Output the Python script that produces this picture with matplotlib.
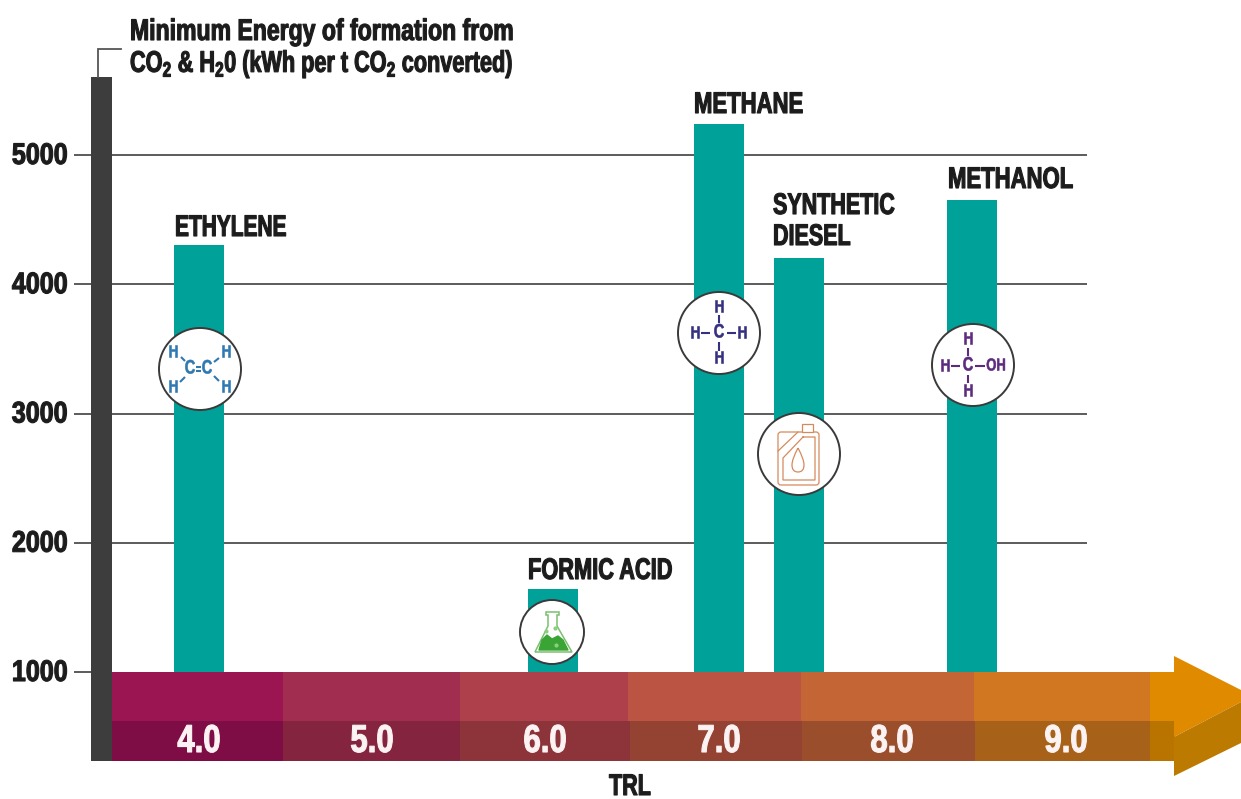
import matplotlib
matplotlib.use('Agg')
import matplotlib.pyplot as plt
from matplotlib.patches import Circle, Polygon, Rectangle, FancyBboxPatch, PathPatch
from matplotlib.patheffects import AbstractPathEffect
from matplotlib.path import Path
from matplotlib.transforms import Affine2D

plt.rcParams['font.family'] = ['Liberation Sans', 'DejaVu Sans']
plt.rcParams['font.weight'] = 'bold'
plt.rcParams['mathtext.fontset'] = 'custom'
plt.rcParams['mathtext.rm'] = 'Liberation Sans:bold'
plt.rcParams['mathtext.default'] = 'rm'

# data
products = ['ETHYLENE', 'FORMIC ACID', 'METHANE', 'SYNTHETIC\nDIESEL', 'METHANOL']
product_trl = [4.0, 6.04, 7.0, 7.46, 8.46]
product_energy = [4300, 1640, 5240, 4200, 4650]
y_ticks = [1000, 2000, 3000, 4000, 5000]
grid_values = [2000, 3000, 4000, 5000]
trl_levels = [4.0, 5.0, 6.0, 7.0, 8.0, 9.0]

DARK = '#3d3d3d'
TEAL = '#00a198'
TEXT = '#1c1c1c'


# no condensed font here, so squeeze the text sideways when it is drawn
class Squeeze(AbstractPathEffect):
    def __init__(self, x0, sx, dy=0, bold=0.8):
        self.x0, self.sx, self.dy, self.bold = x0, sx, dy, bold

    def draw_path(self, renderer, gc, tpath, affine, rgbFace=None):
        t = affine + Affine2D().translate(-self.x0, 0).scale(self.sx, 1).translate(self.x0, self.dy)
        gc0 = renderer.new_gc()
        gc0.copy_properties(gc)
        gc0.set_linewidth(self.bold)
        gc0.set_foreground(rgbFace)
        renderer.draw_path(gc0, tpath, t, rgbFace)
        gc0.restore()


fig = plt.figure(figsize=(12.41, 7.99), dpi=100)
ax = fig.add_axes([112 / 1241, 0, 1 - 112 / 1241, 1])


# pixel -> data helpers, 173.4 px per TRL and 129.25 px per 1000
def px_x(px):
    return 4 + (px - 199) / 173.4


def px_y(py):
    return 1000 + (672 - py) * 1000 / 129.25


ax.set_xlim(px_x(112), px_x(1241))
ax.set_ylim(px_y(799), px_y(0))
for s in ax.spines.values():
    s.set_visible(False)
ax.patch.set_alpha(0)

ax.hlines(grid_values, px_x(112), px_x(1087), color='#404040', lw=1.2, zorder=1)
ax.bar(product_trl, [v - 1000 for v in product_energy], bottom=1000,
       width=50 / 173.4, color=TEAL, zorder=2)

ax.set_xticks([])
ax.set_yticks(y_ticks)
ax.set_yticklabels([str(v) for v in y_ticks], fontsize=21.5, color=TEXT)
ax.tick_params(axis='y', length=27.4, width=1.2, color='#404040', pad=4.3)
for lab in ax.get_yticklabels():
    lab.set_path_effects([Squeeze(66.5, 0.84, dy=2)])

# overlay in pixel coordinates for axis bar, arrow and icons
ov = fig.add_axes([0, 0, 1, 1], zorder=5)
ov.set_xlim(0, 1241)
ov.set_ylim(799, 0)
ov.axis('off')


def label(x, y, s, sx, size=21.5, col=TEXT, ha='left', zorder=6, bold=0.8):
    ov.text(x, y, s, fontsize=size, color=col, ha=ha, va='center', zorder=zorder,
            path_effects=[Squeeze(x, sx, bold=bold)])


ov.add_patch(Rectangle((91, 77), 21, 684, color=DARK, lw=0))
ov.plot([98, 98, 121], [77, 49, 49], color='#555555', lw=1.3, solid_joinstyle='miter')
label(130, 32, 'Minimum Energy of formation from', 0.771)
label(130, 64, r'CO$_2$ & H$_2$0 (kWh per t CO$_2$ converted)', 0.725)

# product labels
name_px = [175, 528, 694, 773, 948]
name_py = [228, 571, 105, 221, 180]
name_sx = [0.70, 0.73, 0.74, 0.72, 0.74]
for name, lx, ly, sx in zip(products, name_px, name_py, name_sx):
    if '\n' in name:
        first, second = name.split('\n')
        label(lx, ly - 15, first, sx)
        label(lx, ly + 16, second, sx)
    else:
        label(lx, ly, name, sx)

# arrow bands
top_edges = [112, 283, 460, 628, 801, 974, 1150]
bot_edges = [112, 283, 460, 630, 802, 975, 1150]
top_cols = ['#9b1552', '#a12e50', '#ae404b', '#bb5443', '#c46536', '#d17621']
bot_cols = ['#7e0d46', '#84243f', '#8d343b', '#944232', '#9a4e2c', '#a86118']
for i in range(6):
    ov.add_patch(Rectangle((top_edges[i], 672), top_edges[i + 1] - top_edges[i], 49,
                           color=top_cols[i], lw=0))
    ov.add_patch(Rectangle((bot_edges[i], 721), bot_edges[i + 1] - bot_edges[i], 40,
                           color=bot_cols[i], lw=0))
ov.add_patch(Rectangle((1150, 672), 25, 49, color='#e08a00', lw=0))
ov.add_patch(Rectangle((1150, 721), 25, 40, color='#b97400', lw=0))
ov.add_patch(Polygon([(1174, 656), (1241, 690), (1241, 702), (1174, 737)], color='#e08a00', lw=0))
ov.add_patch(Polygon([(1174, 737), (1241, 702), (1241, 743), (1174, 776)], color='#bd7a00', lw=0))

for trl, px in zip(trl_levels, [199, 372, 545, 719, 892, 1066]):
    label(px, 742, f'{trl:.1f}', 0.8, size=28, col='#fbf3f3', ha='center')
label(630, 787, 'TRL', 0.72, ha='center')


def badge(cx, cy, r=41):
    ov.add_patch(Circle((cx, cy), r, fc='white', ec='#3a3a3a', lw=1.4, zorder=3))


def atom(x, y, s, col, size=12.5, sx=0.75):
    label(x, y, s, sx, size=size, col=col, ha='center', zorder=5, bold=0.4)


def bond(x0, y0, x1, y1, col):
    ov.plot([x0, x1], [y0, y1], color=col, lw=1.5, zorder=4, solid_capstyle='butt')


# ethylene
c = '#2f78b0'
badge(200, 369)
atom(173, 352, 'H', c); atom(226, 352, 'H', c)
atom(173, 387, 'H', c); atom(226, 387, 'H', c)
atom(190, 369, 'C', c, 14); atom(207, 369, 'C', c, 14)
bond(181, 357, 185, 361, c); bond(219, 358, 214, 362, c)
bond(180, 382, 185, 377, c); bond(219, 381, 214, 376, c)
bond(196, 367, 201, 367, c); bond(196, 371, 201, 371, c)

# methane
c = '#35307f'
badge(719, 333)
atom(719, 307, 'H', c); atom(719, 358, 'H', c)
atom(695, 333, 'H', c); atom(742, 333, 'H', c)
atom(719, 333, 'C', c, 14)
bond(719, 315, 719, 323, c); bond(719, 342, 719, 351, c)
bond(701, 333, 710, 333, c); bond(727, 333, 736, 333, c)

# methanol
c = '#5c2b7e'
badge(973, 365)
atom(968, 339, 'H', c); atom(968, 391, 'H', c)
atom(945, 366, 'H', c); atom(968, 366, 'C', c, 14); atom(996, 366, 'OH', c)
bond(968, 348, 968, 356, c); bond(968, 375, 968, 383, c)
bond(951, 366, 960, 366, c); bond(975, 366, 985, 366, c)

# oil can
c = '#d58a5c'
badge(799, 454)
ov.add_patch(FancyBboxPatch((778, 432), 41, 53, boxstyle='round,pad=0,rounding_size=3',
                            fc='none', ec=c, lw=0.9, zorder=4))
ov.add_patch(Rectangle((802, 424), 11, 8, fc='white', ec=c, lw=0.9, zorder=4))
ov.plot([778, 798], [451, 432], color=c, lw=0.9, zorder=4)
ov.plot([803, 815, 815, 783, 783, 803], [437, 437, 480, 480, 458, 437], color=c, lw=0.9, zorder=4)
drop = Path([(798, 448), (792, 459), (792, 465), (792, 472), (798, 472), (804, 472),
             (804, 465), (804, 459), (798, 448)],
            [Path.MOVETO, Path.CURVE3, Path.CURVE3, Path.CURVE3, Path.CURVE3,
             Path.CURVE3, Path.CURVE3, Path.CURVE3, Path.CURVE3])
ov.add_patch(PathPatch(drop, fc='none', ec=c, lw=0.9, zorder=4))

# flask
c = '#3aa535'
badge(552, 632, 32)
ov.add_patch(Polygon([(546, 612), (559, 612), (559, 615), (557, 615), (557, 626),
                      (572, 652), (535, 652), (548, 626), (548, 615), (546, 615)],
                     fc='white', ec='#7cbf70', lw=1.1, zorder=4))
ov.add_patch(Polygon([(539, 650), (568, 650), (563, 640), (558, 636), (552, 639),
                      (547, 635), (542, 640)], fc=c, ec=c, lw=1, joinstyle='round', zorder=4))
ov.plot([546, 555, 556], [631, 628, 645], ls='none', marker='o', ms=2, color='#8ccf80', zorder=5)

fig.savefig('out.png', dpi=100)
